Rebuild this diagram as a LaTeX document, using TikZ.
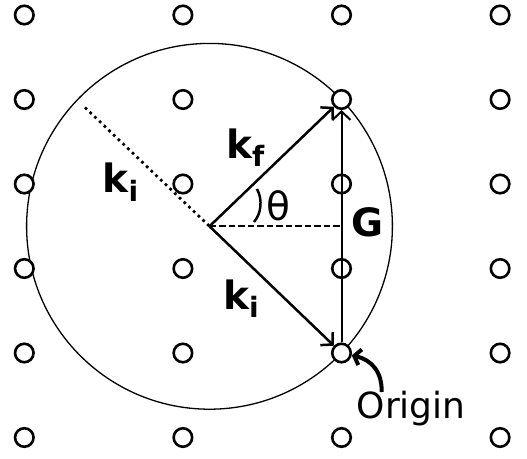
\documentclass[tikz,border=0pt]{standalone}
\usepackage{fontspec}
\setmainfont{DejaVu Sans}
\usetikzlibrary{arrows.meta}
\newcommand\lblsub[1]{\raisebox{-8.5pt}{\fontsize{28}{30}\selectfont #1}}
\begin{document}
\begin{tikzpicture}[x=1pt,y=-1pt,
  lat/.style={circle,draw,line width=2.6pt,fill=white,minimum size=18.5pt,inner sep=0pt},
  tipb/.style={-{Straight Barb[length=8.5pt,width=18pt]}},
  vec/.style={line width=2.5pt,tipb},
  lbl/.style={font=\fontsize{39}{42}\selectfont\bfseries,inner sep=0pt,anchor=base west},
  plain/.style={inner sep=0pt,anchor=base west}]
\useasboundingbox (0,0) rectangle (527,458);
\coordinate (C) at (209.5,226.3);
\draw[line width=1.3pt] (C) circle[radius=182.9pt];
\foreach \i/\x in {1/24.3,2/182.9,3/341.5,4/500.1}
  \foreach \j/\y in {1/15,2/99.5,3/184,4/268.5,5/353,6/437.5}
    \node[lat] (n\i\j) at (\x,\y) {};
\coordinate (D) at (85,107.5);
\draw[line width=2.7pt,dash pattern=on 2.7pt off 3.8pt] (D) -- (C);
\draw[line width=1.8pt,dash pattern=on 6.5pt off 3pt] (C) -- (C -| n32);
\draw[vec] (C) -- (n32);
\draw[vec] (C) -- (n35);
\draw[vec,line width=2pt] (n35) -- (n32);
\draw[line width=2.5pt] (257,189) .. controls (263,200) and (261,214) .. (254,222);
\node[lbl] (kf) at (226,158) {k\lblsub{f}};
\node[lbl] (ki1) at (102.5,192.5) {k\lblsub{i}};
\node[lbl] (ki2) at (223,309) {k\lblsub{i}};
\node[lbl] (G) at (351,236.7) {G};
\node[plain,font=\fontsize{39}{42}\selectfont] (th) at (266,220) {θ};
\node[plain,font=\fontsize{36}{38}\selectfont] (orig) at (356.5,418.3) {Origin};
\coordinate (os) at (381.7,392);
\draw[line width=4pt,-{Straight Barb[length=6pt,width=16pt]}] (os) .. controls (382,372) and (372,360) .. (n35);
\end{tikzpicture}
\end{document}
